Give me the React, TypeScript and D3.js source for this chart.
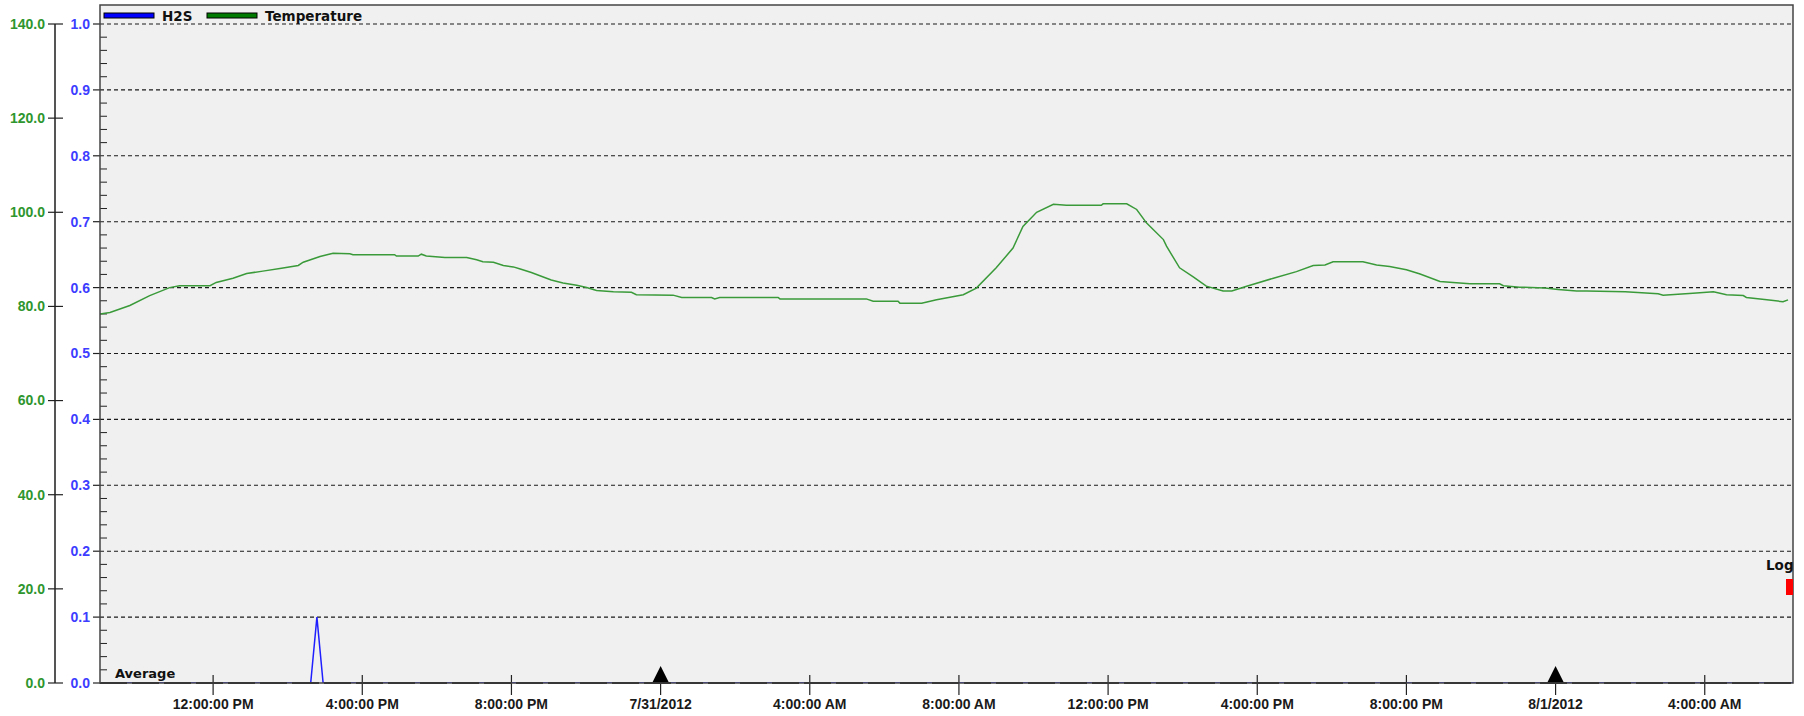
import React from 'react';
import * as d3 from 'd3';

// values
const parseTime = d3.timeParse('%Y-%m-%d %H:%M');

const tempTimes = [
  '2012-07-30 08:58', '2012-07-30 09:14', '2012-07-30 09:46', '2012-07-30 10:18', '2012-07-30 10:50',
  '2012-07-30 11:06', '2012-07-30 11:55', '2012-07-30 12:05', '2012-07-30 12:32', '2012-07-30 12:54',
  '2012-07-30 13:20', '2012-07-30 13:50', '2012-07-30 14:17', '2012-07-30 14:25', '2012-07-30 14:52',
  '2012-07-30 15:13', '2012-07-30 15:40', '2012-07-30 15:45', '2012-07-30 16:52', '2012-07-30 16:55',
  '2012-07-30 17:30', '2012-07-30 17:35', '2012-07-30 17:43', '2012-07-30 18:13', '2012-07-30 18:48',
  '2012-07-30 19:04', '2012-07-30 19:14', '2012-07-30 19:31', '2012-07-30 19:47', '2012-07-30 20:03',
  '2012-07-30 20:13', '2012-07-30 20:32', '2012-07-30 20:48', '2012-07-30 21:04', '2012-07-30 21:23',
  '2012-07-30 21:45', '2012-07-30 22:01', '2012-07-30 22:17', '2012-07-30 22:44', '2012-07-30 23:13',
  '2012-07-30 23:21', '2012-07-31 00:20', '2012-07-31 00:34', '2012-07-31 01:22', '2012-07-31 01:27',
  '2012-07-31 01:35', '2012-07-31 03:09', '2012-07-31 03:12', '2012-07-31 05:31', '2012-07-31 05:42',
  '2012-07-31 06:22', '2012-07-31 06:25', '2012-07-31 07:00', '2012-07-31 07:24', '2012-07-31 08:07',
  '2012-07-31 08:28', '2012-07-31 09:00', '2012-07-31 09:27', '2012-07-31 09:43', '2012-07-31 10:05',
  '2012-07-31 10:32', '2012-07-31 10:53', '2012-07-31 11:49', '2012-07-31 11:52', '2012-07-31 12:30',
  '2012-07-31 12:46', '2012-07-31 13:02', '2012-07-31 13:29', '2012-07-31 13:34', '2012-07-31 13:55',
  '2012-07-31 14:17', '2012-07-31 14:38', '2012-07-31 15:05', '2012-07-31 15:19', '2012-07-31 15:43',
  '2012-07-31 16:26', '2012-07-31 17:03', '2012-07-31 17:30', '2012-07-31 17:49', '2012-07-31 18:02',
  '2012-07-31 18:50', '2012-07-31 19:12', '2012-07-31 19:33', '2012-07-31 20:00', '2012-07-31 20:22',
  '2012-07-31 20:54', '2012-07-31 21:15', '2012-07-31 21:42', '2012-07-31 22:30', '2012-07-31 22:36',
  '2012-07-31 23:02', '2012-07-31 23:43', '2012-08-01 00:04', '2012-08-01 00:34', '2012-08-01 00:50',
  '2012-08-01 01:52', '2012-08-01 02:45', '2012-08-01 02:53', '2012-08-01 03:41', '2012-08-01 04:14',
  '2012-08-01 04:35', '2012-08-01 05:02', '2012-08-01 05:07', '2012-08-01 05:40', '2012-08-01 06:06',
  '2012-08-01 06:14',
];
const tempValues = [
  78.4, 78.7, 80.2, 82.3, 84.0,
  84.4, 84.4, 85.1, 86.0, 87.0,
  87.5, 88.1, 88.7, 89.4, 90.6,
  91.3, 91.2, 91.0, 91.0, 90.7,
  90.7, 91.1, 90.7, 90.4, 90.4,
  89.9, 89.5, 89.4, 88.7, 88.4,
  88.0, 87.2, 86.4, 85.6, 85.0,
  84.5, 84.0, 83.4, 83.1, 83.0,
  82.5, 82.4, 81.9, 81.9, 81.6,
  81.9, 81.9, 81.6, 81.6, 81.1,
  81.1, 80.7, 80.7, 81.4, 82.5,
  83.9, 88.2, 92.4, 97.0, 100.0,
  101.7, 101.5, 101.5, 101.8, 101.8,
  100.6, 97.7, 94.2, 92.8, 88.2,
  86.3, 84.3, 83.3, 83.3, 84.3,
  86.0, 87.4, 88.7, 88.8, 89.5,
  89.5, 88.8, 88.5, 87.8, 86.9,
  85.3, 85.1, 84.8, 84.8, 84.4,
  84.1, 83.9, 83.6, 83.3, 83.3,
  83.1, 82.7, 82.4, 82.8, 83.1,
  82.5, 82.3, 81.9, 81.4, 81.0,
  81.4,
];

const h2sTimes = ['2012-07-30 08:58', '2012-07-30 14:37', '2012-07-30 14:47', '2012-07-30 14:57', '2012-08-01 06:22'];
const h2sValues = [0, 0, 0.1, 0, 0];

const timeDomain = ['2012-07-30 08:58', '2012-08-01 06:22'];
const h2sTicks = [0, 0.1, 0.2, 0.3, 0.4, 0.5, 0.6, 0.7, 0.8, 0.9, 1.0];
const tempTicks = [0, 20, 40, 60, 80, 100, 120, 140];
const dayMarkers = ['2012-07-31 00:00', '2012-08-01 00:00'];

const W = 1804;
const H = 716;
const plot = { left: 100, top: 5, right: 1793, bottom: 683 };
const yTop = 24;

const GREEN_TXT = '#2e962e';
const BLUE_TXT = '#3d3dff';

export default function App() {
  const x = d3
    .scaleTime()
    .domain(timeDomain.map((t) => parseTime(t) as Date))
    .range([plot.left, plot.right]);
  const yH2S = d3.scaleLinear().domain([0, 1]).range([plot.bottom, yTop]);
  const yTemp = d3.scaleLinear().domain([0, 140]).range([plot.bottom, yTop]);

  const tempData = tempTimes.map((t, i) => ({ t: parseTime(t) as Date, v: tempValues[i] }));
  const h2sData = h2sTimes.map((t, i) => ({ t: parseTime(t) as Date, v: h2sValues[i] }));

  const tempLine = d3
    .line<{ t: Date; v: number }>()
    .x((d) => x(d.t))
    .y((d) => yTemp(d.v));
  const h2sLine = d3
    .line<{ t: Date; v: number }>()
    .x((d) => x(d.t))
    .y((d) => yH2S(d.v));

  const xTicks = x.ticks(d3.timeHour.every(4) as d3.TimeInterval);
  const fmtTime = d3.timeFormat('%-I:%M:%S %p');
  const fmtDate = d3.timeFormat('%-m/%-d/%Y');
  const fmtTick = (d: Date) => (d.getHours() === 0 && d.getMinutes() === 0 ? fmtDate(d) : fmtTime(d));

  // minor ticks every 0.02 on the H2S axis
  const minorTicks = d3.range(0, 50).map((i) => i * 0.02).filter((v) => Math.round(v * 100) % 10 !== 0);

  const axisFont = '"Liberation Sans", Arial, sans-serif';
  const legendFont = '"DejaVu Sans", Verdana, sans-serif';

  return (
    <svg width={W} height={H} style={{ position: 'absolute', left: 0, top: 0, background: '#fff' }}>
      <defs>
        <clipPath id="plotClip">
          <rect x={plot.left} y={plot.top} width={plot.right - plot.left} height={plot.bottom - plot.top} />
        </clipPath>
      </defs>
      <rect x={plot.left} y={plot.top} width={plot.right - plot.left} height={plot.bottom - plot.top} fill="#f0f0f0" />

      {/* dashed grid */}
      {h2sTicks.slice(1).map((v) => (
        <line key={v} x1={plot.left} x2={plot.right} y1={yH2S(v)} y2={yH2S(v)} stroke="#1a1a1a" strokeWidth={1.1} strokeDasharray="4,3" />
      ))}

      {/* minor ticks inside plot */}
      {minorTicks.map((v) => (
        <line key={v} x1={plot.left} x2={plot.left + 7} y1={yH2S(v)} y2={yH2S(v)} stroke="#222" strokeWidth={1} />
      ))}

      {/* series */}
      <g clipPath="url(#plotClip)">
        <path d={h2sLine(h2sData) || ''} fill="none" stroke="#1f1fff" strokeWidth={1.5} />
        <path d={tempLine(tempData) || ''} fill="none" stroke="#3a9a3a" strokeWidth={1.5} />
      </g>

      {/* bottom axis line, letting the blue baseline show through */}
      <line x1={plot.left} x2={plot.right} y1={plot.bottom} y2={plot.bottom} stroke="#111" strokeWidth={2} strokeDasharray="27,5" />

      {/* x ticks and labels */}
      {xTicks.map((d) => {
        const isDay = d.getHours() === 0;
        return (
          <g key={+d}>
            <line x1={x(d)} x2={x(d)} y1={isDay ? plot.bottom : plot.bottom - 8} y2={plot.bottom + 12} stroke="#222" strokeWidth={1.2} />
            <text x={x(d)} y={709} textAnchor="middle" fontFamily={axisFont} fontWeight="bold" fontSize={14} fill="#1a1a1a">
              {fmtTick(d)}
            </text>
          </g>
        );
      })}

      {/* day markers */}
      {dayMarkers.map((s) => {
        const cx = x(parseTime(s) as Date);
        return <path key={s} d={`M${cx - 8.5},${plot.bottom} L${cx},${plot.bottom - 17} L${cx + 8.5},${plot.bottom} Z`} fill="#000" />;
      })}

      {/* H2S axis (blue) */}
      {h2sTicks.map((v) => (
        <g key={v}>
          <line x1={93} x2={plot.left} y1={yH2S(v)} y2={yH2S(v)} stroke="#222" strokeWidth={1.2} />
          <text x={90} y={yH2S(v)} dy="0.35em" textAnchor="end" fontFamily={axisFont} fontWeight="bold" fontSize={14} fill={BLUE_TXT}>
            {v.toFixed(1)}
          </text>
        </g>
      ))}

      {/* Temperature axis (green) */}
      <line x1={55} x2={55} y1={yTemp(140)} y2={yTemp(0)} stroke="#555" strokeWidth={2} />
      {tempTicks.map((v) => (
        <g key={v}>
          <line x1={48} x2={63} y1={yTemp(v)} y2={yTemp(v)} stroke="#222" strokeWidth={1.2} />
          <text x={45} y={yTemp(v)} dy="0.35em" textAnchor="end" fontFamily={axisFont} fontWeight="bold" fontSize={14} fill={GREEN_TXT}>
            {v.toFixed(1)}
          </text>
        </g>
      ))}

      {/* plot frame */}
      <rect x={plot.left} y={plot.top} width={plot.right - plot.left} height={plot.bottom - plot.top} fill="none" stroke="#444" strokeWidth={1.5} />

      {/* legend */}
      <rect x={104} y={13} width={50} height={5} fill="#0000ff" stroke="#000" strokeWidth={1} />
      <text x={162} y={20.5} fontFamily={legendFont} fontWeight="bold" fontSize={13.5} fill="#111">H2S</text>
      <rect x={207} y={13} width={50} height={5} fill="#007a00" stroke="#000" strokeWidth={1} />
      <text x={265} y={20.5} fontFamily={legendFont} fontWeight="bold" fontSize={13.5} fill="#111">Temperature</text>

      <text x={115} y={678} fontFamily={legendFont} fontWeight="bold" fontSize={13} fill="#111">Average</text>

      {/* Log marker */}
      <text x={1766} y={570} fontFamily={legendFont} fontWeight="bold" fontSize={13.5} fill="#111">Log</text>
      <rect x={1786} y={579} width={7} height={16} fill="#ff0000" />
    </svg>
  );
}
